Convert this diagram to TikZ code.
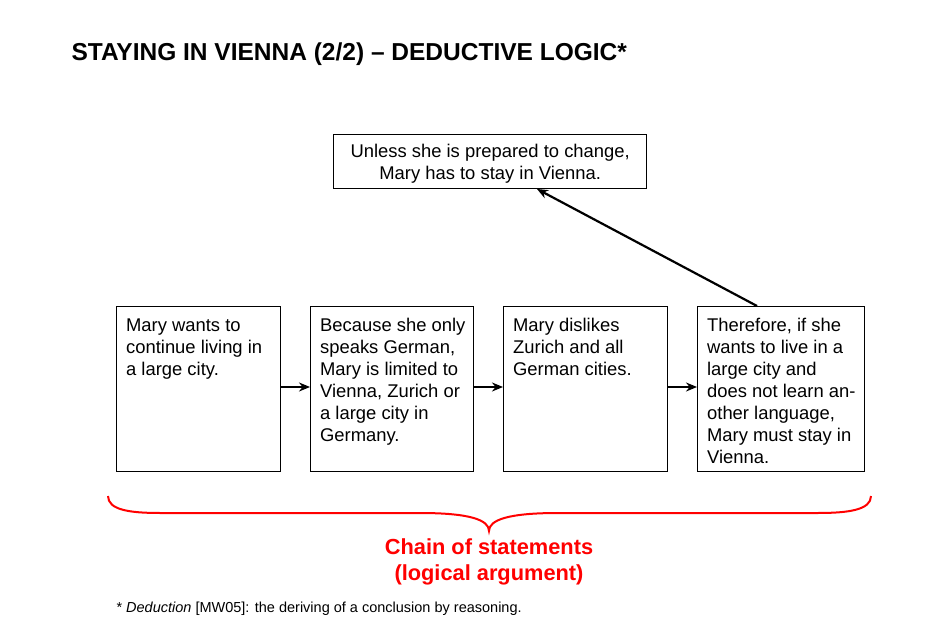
\documentclass[tikz,border=0pt]{standalone}
\usepackage{fontspec}
\setmainfont{Liberation Sans}
\usetikzlibrary{arrows.meta}
\begin{document}
\begin{tikzpicture}[x=1pt,y=-1pt,
  box/.style={draw, line width=1.3pt, anchor=north west, inner sep=9.5pt, font=\fontsize{18.4}{22}\selectfont},
  topbox/.style={draw, line width=1.3pt, anchor=north west, inner sep=0pt, minimum width=313pt, minimum height=54pt, font=\fontsize{18.4}{22}\selectfont},
  conn/.style={line width=2.2pt, -{Stealth[length=11pt,width=9pt]}},
  redlabel/.style={text=red, font=\bfseries\fontsize{21.8}{26}\selectfont, align=center},
]
\useasboundingbox (0,0) rectangle (950,620);
\node[anchor=west, font=\bfseries\fontsize{24.5}{28}\selectfont] (title) at (68,54) {STAYING IN VIENNA (2/2) – DEDUCTIVE LOGIC*};
\newcommand{\bx}[2]{\begin{minipage}[t][146pt][t]{#1pt}\renewcommand{\arraystretch}{1}\setlength{\tabcolsep}{0pt}\begin{tabular}[t]{l}#2\end{tabular}\end{minipage}}
\node[topbox] (top) at (333,134) {\raisebox{0pt}[\dimexpr\height+5pt\relax][\depth]{\setlength{\tabcolsep}{0pt}\begin{tabular}{c}Unless she is prepared to change,\\Mary has to stay in Vienna.\end{tabular}}};
\node[box] (b1) at (116,306) {\bx{145}{Mary wants to\\continue living in\\a large city.}};
\node[box] (b2) at (310,306) {\bx{144}{Because she only\\speaks German,\\Mary is limited to\\Vienna, Zurich or\\a large city in\\Germany.}};
\node[box] (b3) at (503,306) {\bx{145}{Mary dislikes\\Zurich and all\\German cities.}};
\node[box] (b4) at (697,306) {\bx{148}{Therefore, if she\\wants to live in a\\large city and\\does not learn an-\\other language,\\Mary must stay in\\Vienna.}};
\draw[conn] (b1.east |- 0,387) -- (b2.west |- 0,387);
\draw[conn] (b2.east |- 0,387) -- (b3.west |- 0,387);
\draw[conn] (b3.east |- 0,387) -- (b4.west |- 0,387);
\coordinate (c4) at (757,306);
\coordinate (ct) at (537,189);
\draw[conn] (c4) -- (ct);
\coordinate (bl) at (108,496);
\coordinate (br) at (871,496);
\coordinate (bt) at (489,531);
\draw[red, line width=2pt] (bl) .. controls (108,510) and (130,513) .. (160,513) -- (420,513) .. controls (470,513) and (489,520) .. (bt)
  .. controls (489,520) and (508,513) .. (558,513) -- (818,513) .. controls (848,513) and (871,510) .. (br);
\node[redlabel] (lab) at (489,562) {Chain of statements\\(logical argument)};
\node[anchor=west, font=\fontsize{14.5}{17}\selectfont] (foot) at (113,609) {* \textit{Deduction} [MW05]: the deriving of a conclusion by reasoning.};
\end{tikzpicture}
\end{document}
